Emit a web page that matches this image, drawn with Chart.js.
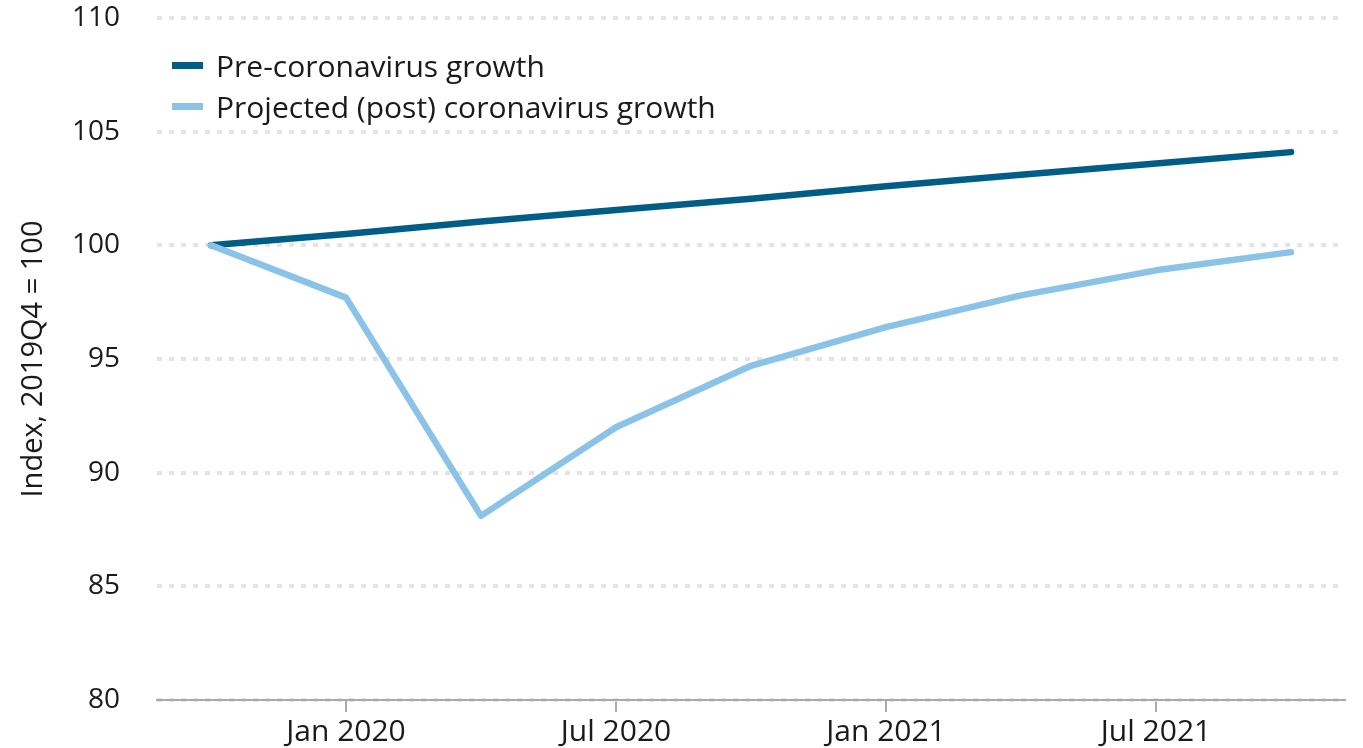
<!DOCTYPE html>
<html>
<head>
<meta charset="utf-8">
<script src="https://cdn.jsdelivr.net/npm/chart.js@4.4.1/dist/chart.umd.min.js"></script>
<style>
  html, body { margin: 0; padding: 0; background: #fff; }
  #wrap { position: relative; width: 1363px; height: 748px; }
  #chart { display: block; }
  #legend { position: absolute; left: 172px; top: 45px; font-family: "Open Sans", Lato, sans-serif; font-size: 30px; color: #1a1a1a; }
  #legend div { display: flex; align-items: center; height: 41px; white-space: nowrap; }
  #legend span.sw { display: inline-block; width: 31px; height: 7px; margin-right: 13px; }
</style>
</head>
<body>
<div id="wrap">
  <canvas id="chart" width="1363" height="748"></canvas>
  <div id="legend"></div>
</div>
<script>
/* quarters from 2019Q4 to 2021Q4 */
const quarters = ['2019Q4', '2020Q1', '2020Q2', '2020Q3', '2020Q4', '2021Q1', '2021Q2', '2021Q3', '2021Q4'];
const preCovid = [100, 100.5, 101.05, 101.55, 102.05, 102.6, 103.1, 103.6, 104.1];
const postCovid = [100, 97.7, 88.1, 92.0, 94.7, 96.4, 97.8, 98.9, 99.7];
const xTickPos = [1, 3, 5, 7];
const xTickLabels = ['Jan 2020', 'Jul 2020', 'Jan 2021', 'Jul 2021'];
const seriesNames = ['Pre-coronavirus growth', 'Projected (post) coronavirus growth'];
const seriesColors = ['#005e86', '#8bc3e8'];

const FONT = '"Open Sans", Lato, sans-serif';

const toPoints = arr => arr.map((v, i) => ({ x: i, y: v }));

const legendEl = document.getElementById('legend');
legendEl.innerHTML = seriesNames.map((n, i) =>
  `<div><span class="sw" style="background:${seriesColors[i]}"></span>${n}</div>`).join('');

new Chart(document.getElementById('chart'), {
  type: 'line',
  data: {
    datasets: [
      { label: seriesNames[1], data: toPoints(postCovid), borderColor: seriesColors[1], borderWidth: 6.5, pointRadius: 0, tension: 0, borderCapStyle: 'round', borderJoinStyle: 'round' },
      { label: seriesNames[0], data: toPoints(preCovid), borderColor: seriesColors[0], borderWidth: 6.5, pointRadius: 0, tension: 0, borderCapStyle: 'round', borderJoinStyle: 'round' }
    ]
  },
  options: {
    responsive: false,
    animation: false,
    layout: { padding: { top: 18, right: 18, left: 0, bottom: 0 } },
    plugins: { legend: { display: false }, tooltip: { enabled: false } },
    scales: {
      x: {
        type: 'linear',
        min: -0.4,
        max: 8.4,
        afterFit: s => { s.height = 48; s.paddingLeft = 0; s.paddingRight = 0; },
        afterBuildTicks: s => { s.ticks = xTickPos.map(v => ({ value: v })); },
        ticks: {
          autoSkip: false,
          maxRotation: 0,
          padding: 2,
          color: '#1a1a1a',
          font: { family: FONT, size: 30 },
          callback: v => xTickLabels[xTickPos.indexOf(v)] || ''
        },
        grid: { drawOnChartArea: false, drawTicks: true, tickLength: 12, color: '#aaaaaa', lineWidth: 2 },
        border: { display: true, color: '#aaaaaa', width: 2 }
      },
      y: {
        min: 80,
        max: 110,
        afterFit: s => { s.width = 157; s.paddingTop = 0; s.paddingBottom = 0; },
        ticks: {
          stepSize: 5,
          padding: 37,
          color: '#1a1a1a',
          font: { family: FONT, size: 28 }
        },
        grid: { drawTicks: false, color: '#e4e4e4', lineWidth: 4 },
        border: { display: false, dash: [5, 7] },
        title: {
          display: true,
          text: 'Index, 2019Q4 = 100',
          color: '#1a1a1a',
          font: { family: FONT, size: 29 },
          padding: { top: 16, bottom: 0 }
        }
      }
    }
  }
});
</script>
</body>
</html>
